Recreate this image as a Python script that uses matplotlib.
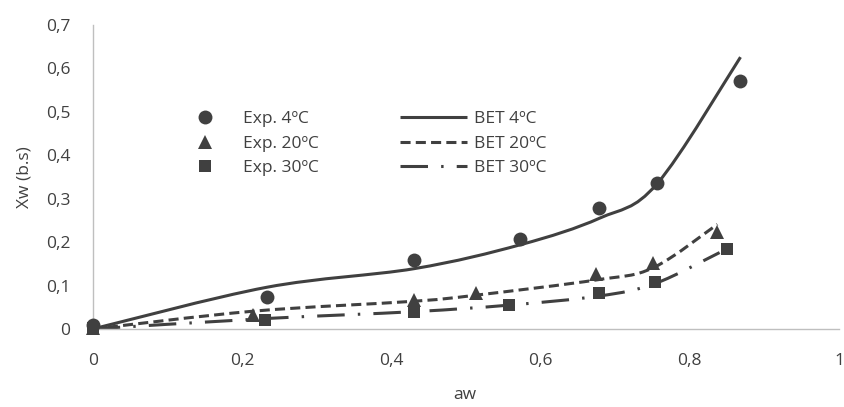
import numpy as np
import matplotlib
matplotlib.use("Agg")
import matplotlib.pyplot as plt
from matplotlib.path import Path
from matplotlib.patches import PathPatch
from matplotlib.lines import Line2D
from matplotlib.ticker import FixedLocator, FuncFormatter

# ---------------- data ----------------
aw_exp_4 = [0.0, 0.233, 0.431, 0.573, 0.679, 0.756, 0.867]
xw_exp_4 = [0.010, 0.074, 0.159, 0.207, 0.278, 0.337, 0.570]
aw_exp_20 = [0.0, 0.215, 0.431, 0.514, 0.675, 0.751, 0.836]
xw_exp_20 = [0.002, 0.032, 0.067, 0.084, 0.127, 0.151, 0.224]
aw_exp_30 = [0.0, 0.231, 0.431, 0.558, 0.679, 0.754, 0.850]
xw_exp_30 = [0.002, 0.021, 0.040, 0.055, 0.082, 0.109, 0.184]

aw_bet_4 = [0.0, 0.233, 0.431, 0.573, 0.679, 0.756, 0.868]
xw_bet_4 = [0.0, 0.096, 0.139, 0.194, 0.255, 0.334, 0.626]
aw_bet_20 = [0.0, 0.215, 0.431, 0.514, 0.675, 0.751, 0.837]
xw_bet_20 = [0.0, 0.041, 0.064, 0.078, 0.113, 0.141, 0.241]
aw_bet_30 = [0.0, 0.231, 0.431, 0.558, 0.679, 0.754, 0.840]
xw_bet_30 = [0.0, 0.024, 0.040, 0.055, 0.076, 0.105, 0.176]

exp_labels = ["Exp. 4ºC", "Exp. 20ºC", "Exp. 30ºC"]
bet_labels = ["BET 4ºC", "BET 20ºC", "BET 30ºC"]
x_ticks = [0, 0.2, 0.4, 0.6, 0.8, 1.0]
y_ticks = [0, 0.1, 0.2, 0.3, 0.4, 0.5, 0.6, 0.7]
x_label = "aw"
y_label = "Xw (b.s)"

# ---------------- style ----------------
plt.rcParams['font.family'] = ['Open Sans', 'DejaVu Sans']
FS = 12.5
C = "#404040"
AXC = "#BFBFBF"
LW = 2.2
styles = [
    dict(linestyle="solid"),
    dict(linestyle=(0, (3.3, 1.7))),
    dict(linestyle=(0, (9, 4.3, 0.8, 4.3))),
]


def smooth_path(x, y):
    """Excel-like smoothed line: cubic Bezier through the points."""
    pts = np.column_stack([x, y]).astype(float)
    n = len(pts)
    verts = [pts[0]]
    codes = [Path.MOVETO]
    for i in range(n - 1):
        p0 = pts[i - 1] if i > 0 else pts[i]
        p1 = pts[i]
        p2 = pts[i + 1]
        p3 = pts[i + 2] if i + 2 < n else pts[i + 1]
        c1 = p1 + (p2 - p0) / 6.0
        c2 = p2 - (p3 - p1) / 6.0
        verts += [c1, c2, p2]
        codes += [Path.CURVE4] * 3
    return Path(verts, codes)


W, H = 845, 407
fig = plt.figure(figsize=(W / 100, H / 100), dpi=100)
ax = fig.add_axes([92.7 / W, 1 - 329 / H, (839 - 92.7) / W, (329 - 25) / H])

# BET curves
bet = [(aw_bet_4, xw_bet_4), (aw_bet_20, xw_bet_20), (aw_bet_30, xw_bet_30)]
for (xs, ys), st in zip(bet, styles):
    patch = PathPatch(smooth_path(xs, ys), fill=False, edgecolor=C,
                      linewidth=LW, capstyle="butt", **st)
    ax.add_patch(patch)

# experimental points
exp = [(aw_exp_4, xw_exp_4, "o", 10), (aw_exp_20, xw_exp_20, "^", 9.5),
       (aw_exp_30, xw_exp_30, "s", 9)]
for xs, ys, m, ms in exp:
    ax.plot(xs, ys, linestyle="none", marker=m, markersize=ms, color=C,
            markeredgewidth=0, clip_on=False, zorder=3)

ax.set_xlim(0, 1)
ax.set_ylim(0, 0.7)


def fmt(v, pos=None):
    if abs(v) < 1e-9:
        return "0"
    if abs(v - round(v)) < 1e-9:
        return str(int(round(v)))
    return f"{v:.1f}".replace(".", ",")


ax.xaxis.set_major_locator(FixedLocator(x_ticks))
ax.yaxis.set_major_locator(FixedLocator(y_ticks))
ax.xaxis.set_major_formatter(FuncFormatter(fmt))
ax.yaxis.set_major_formatter(FuncFormatter(fmt))
ax.tick_params(axis="both", length=0, labelsize=FS, colors=C)
ax.tick_params(axis="x", pad=17)
ax.tick_params(axis="y", pad=16)

for s in ["top", "right"]:
    ax.spines[s].set_visible(False)
for s in ["left", "bottom"]:
    ax.spines[s].set_color(AXC)
    ax.spines[s].set_linewidth(1.0)

ax.set_xlabel(x_label, fontsize=FS, color=C)
ax.xaxis.set_label_coords(0.499, (329 - 395) / 304)
ax.xaxis.label.set_va("center")
ax.set_ylabel(y_label, fontsize=FS, color=C)
ax.yaxis.set_label_coords((25 - 92.7) / 746, 0.5)
ax.yaxis.label.set_va("center")

# legends
exp_handles = [Line2D([], [], linestyle="none", marker=m, markersize=ms,
                      color=C, markeredgewidth=0) for _, _, m, ms in exp]
bet_handles = [Line2D([], [], color=C, linewidth=LW, solid_capstyle="butt",
                      dash_capstyle="butt", **st) for st in styles]

fs_px = FS * 100 / 72
leg1 = fig.legend(exp_handles, exp_labels, loc="upper left",
                  bbox_to_anchor=((205 - fs_px) / W, 1 - 111 / H),
                  frameon=False, fontsize=FS, handlelength=2.0,
                  handletextpad=1.2, borderpad=0, borderaxespad=0,
                  labelspacing=0.48, numpoints=1, labelcolor=C)
leg2 = fig.legend(bet_handles, bet_labels, loc="upper left",
                  bbox_to_anchor=(400 / W, 1 - 111 / H),
                  frameon=False, fontsize=FS, handlelength=3.85,
                  handletextpad=0.4, borderpad=0, borderaxespad=0,
                  labelspacing=0.48, labelcolor=C)

fig.savefig("out.png", dpi=100)
